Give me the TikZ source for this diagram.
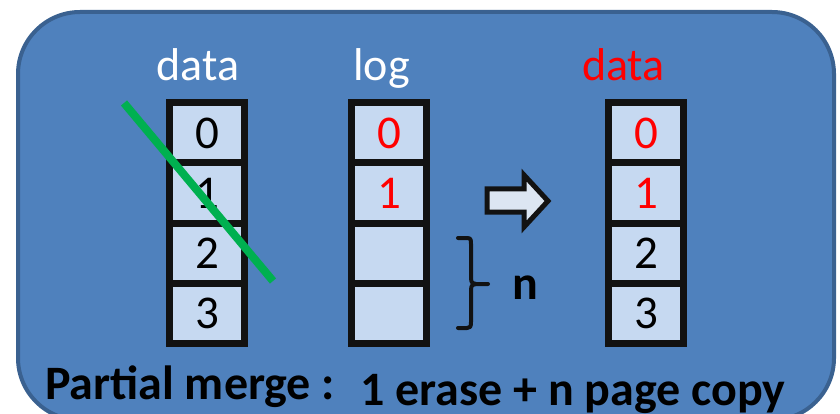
\documentclass[tikz,border=0pt]{standalone}
\usepackage{fontspec}
\setmainfont{Carlito}
\definecolor{panelfill}{HTML}{4F81BD}
\definecolor{paneledge}{HTML}{3A6190}
\definecolor{cellfill}{HTML}{C6D9F1}
\definecolor{arrowfill}{HTML}{DCE6F2}
\definecolor{strike}{HTML}{00B050}
\begin{document}
\begin{tikzpicture}[x=1pt,y=-1pt,
  cell/.style={draw=black!93, line width=7pt, fill=cellfill, minimum width=74.5pt,
    minimum height=60pt, inner sep=0pt, font=\fontsize{47}{52}\selectfont},
  head/.style={inner sep=0pt, anchor=base, font=\fontsize{46}{50}\selectfont, text=white},
  caption/.style={inner sep=0pt, anchor=base west, font=\fontsize{48}{52}\selectfont\bfseries}]
  \useasboundingbox (0,0) rectangle (840,414);
  \fill[white] (0,0) rectangle (840,414);
  \begin{scope}
    \clip (0,0) rectangle (840,414);
    \draw[line width=4pt, draw=paneledge, fill=panelfill, rounded corners=62pt]
      (18,12) rectangle (834,420);
  \end{scope}

  % column headings
  \node[head] (h1) at (198,81) {data};
  \node[head] (h2) at (381.5,81) {log};
  \node[head, text=red] (h3) at (623.5,81) {data};

  % original data block
  \node[cell] (d0) at (207,133) {0};
  \node[cell] (d1) at (207,193) {1};
  \node[cell] (d2) at (207,253) {2};
  \node[cell] (d3) at (207,313) {3};

  % log block
  \node[cell, text=red] (l0) at (389,133) {0};
  \node[cell, text=red] (l1) at (389,193) {1};
  \node[cell] (l2) at (389,253) {};
  \node[cell] (l3) at (389,313) {};

  % merged data block
  \node[cell, text=red] (m0) at (646,133) {0};
  \node[cell, text=red] (m1) at (646,193) {1};
  \node[cell] (m2) at (646,253) {2};
  \node[cell] (m3) at (646,313) {3};

  % erased block is struck out
  \coordinate (s1) at (124,103);
  \coordinate (s2) at (273,281);
  \draw[strike, line width=8pt] (s1) -- (s2);

  % hollow block arrow
  \draw[line width=5pt, draw=black!93, fill=arrowfill, line join=miter]
    (487,189) -- (524,189) -- (524,175) -- (548,201) -- (524,227) -- (524,212)
    -- (487,212) -- cycle;

  % brace over the unused log pages
  \coordinate (b1) at (458,238);
  \coordinate (b2) at (458,328);
  \coordinate (bt) at (488,284);
  \draw[line width=4pt, draw=black!93, line cap=round, line join=round]
    (b1) -- (467,238) .. controls (471,238) and (471,240) .. (471,244)
    -- (471,278) .. controls (471,283) and (473,284) .. (476,284) -- (bt)
    (476,284) .. controls (473,284) and (471,285) .. (471,290)
    -- (471,322) .. controls (471,327) and (470,328) .. (467,328) -- (b2);
  \node[inner sep=0pt, anchor=base, font=\fontsize{48}{52}\selectfont\bfseries] (n) at (525,299) {n};

  % summary line
  \node[caption] (c1) at (45,399) {Partial merge :};
  \node[caption] (c2) at (360,405) {1 erase + n page copy};
\end{tikzpicture}
\end{document}
